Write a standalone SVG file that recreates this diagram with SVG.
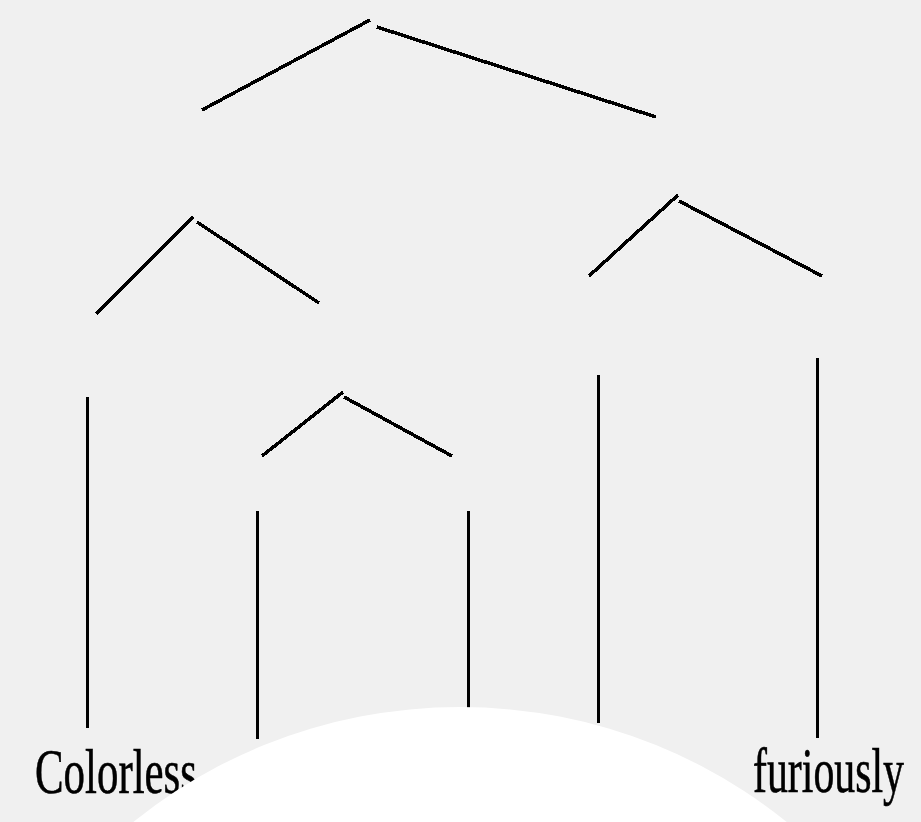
<svg xmlns="http://www.w3.org/2000/svg" width="921" height="822" viewBox="0 0 921 822">
<style>
.e{stroke:#000;stroke-width:3.5;fill:none;shape-rendering:crispEdges}
.v{stroke:#000;stroke-width:3;fill:none;shape-rendering:crispEdges}
.w{font-family:"Liberation Serif",serif;font-size:64px;fill:#000;stroke:#000;stroke-width:0.6}
</style>
<rect width="921" height="822" fill="#f0f0f0"/>
<g id="connectors">
<line class="e" x1="202" y1="110" x2="370" y2="20"/>
<line class="e" x1="377" y1="27" x2="656" y2="117"/>
<line class="e" x1="96" y1="314" x2="193" y2="217"/>
<line class="e" x1="197" y1="222" x2="319" y2="303"/>
<line class="e" x1="589" y1="276" x2="678" y2="195"/>
<line class="e" x1="679" y1="201" x2="822" y2="276"/>
<line class="e" x1="262" y1="456" x2="343" y2="392"/>
<line class="e" x1="344" y1="397" x2="452" y2="456"/>
<line class="v" x1="87.5" y1="397" x2="87.5" y2="728"/>
<line class="v" x1="257" y1="511" x2="257" y2="739"/>
<line class="v" x1="468" y1="511" x2="468" y2="740"/>
<line class="v" x1="598" y1="375" x2="598" y2="723"/>
<line class="v" x1="817" y1="358" x2="817" y2="738"/>
</g>
<g id="node-colorless"><text class="w" x="35" y="793" textLength="162" lengthAdjust="spacingAndGlyphs">Colorless</text></g>
<g id="node-furiously"><text class="w" x="753" y="792" textLength="151" lengthAdjust="spacingAndGlyphs">furiously</text></g>
<ellipse id="cover" cx="460" cy="1207" rx="512" ry="500" fill="#ffffff"/>
</svg>
